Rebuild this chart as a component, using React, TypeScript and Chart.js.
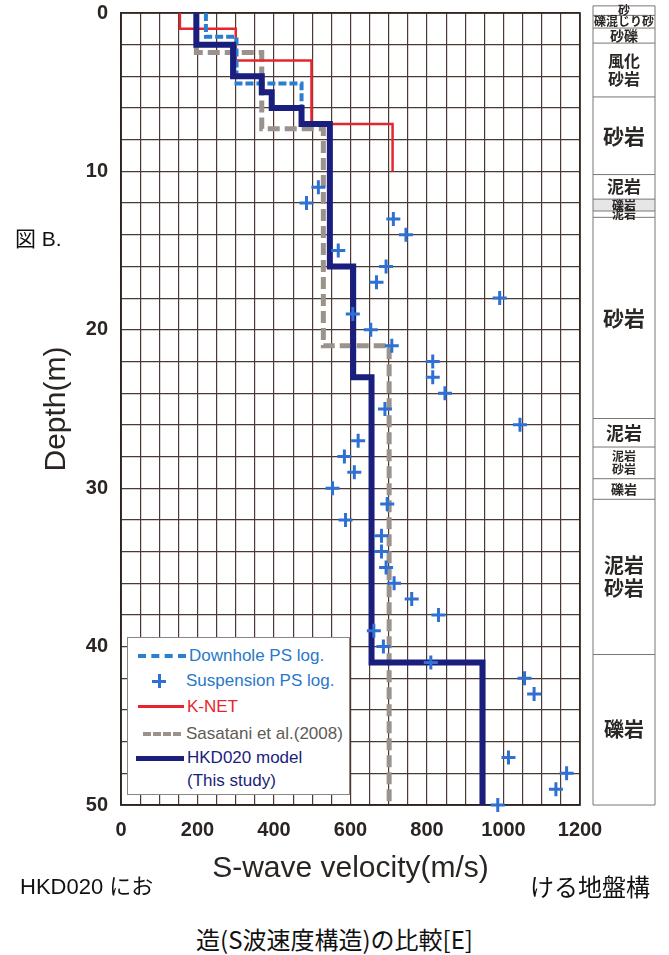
import React, { useEffect, useRef } from 'react';
import { Chart, registerables } from 'chart.js';
Chart.register(...registerables);

// ---------- data ----------
// Suspension PS log points (velocity m/s, depth m)
const SUSP_VS = [516, 485, 712, 745, 568, 693, 668, 990, 606, 653, 708, 815, 815, 847, 690, 1043, 620, 584, 610, 553, 696, 587, 681, 681, 693, 714, 760, 830, 661, 686, 810, 1055, 1080, 1013, 1165, 1137, 985];
const SUSP_DEPTH = [11, 12, 13, 14, 15, 16, 17, 18, 19, 20, 21, 22, 23, 24, 25, 26, 27, 28, 29, 30, 31, 32, 33, 34, 35, 36, 37, 38, 39, 40, 41, 42, 43, 47, 48, 49, 50];

// HKD020 model (this study): layer tops and velocities
const HKD_TOPS = [0, 2, 4, 5, 6, 7, 16, 23, 41];
const HKD_VS = [197, 293, 368, 394, 472, 546, 607, 655, 945];
const HKD_BOTTOM = 50;

// Downhole PS log
const DH_TOPS = [0, 1.5, 4.45];
const DH_VS = [222, 302, 472];
const DH_BOTTOM = 7;

// K-NET
const KNET_TOPS = [0, 1, 3, 7];
const KNET_VS = [154, 300, 498, 710];
const KNET_BOTTOM = 10;

// Sasatani et al. (2008)
const SAS_TOPS = [0, 2.5, 7.3, 21];
const SAS_VS = [197, 368, 529, 701];
const SAS_BOTTOM = 50;

// Geological column
const GEO_BOUNDS = [-0.45, 0.15, 0.95, 1.9, 5.3, 10.2, 11.75, 12.5, 12.9, 25.6, 27.4, 29.4, 30.7, 40.5, 50];
const GEO_NAMES = ['砂', '礫混じり砂', '砂礫', '風化\n砂岩', '砂岩', '泥岩', '礫岩', '泥岩', '砂岩', '泥岩', '泥岩\n砂岩', '礫岩', '泥岩\n砂岩', '礫岩'];
const GEO_FONT = [12, 12, 14, 16, 21, 17, 12, 12, 21, 18, 12, 13, 20, 20];

// axis
const X_MIN = 0, X_MAX = 1200, X_GRID = 50, X_LABEL_EVERY = 200;
const Y_MIN = 0, Y_MAX = 50, Y_GRID = 2, Y_LABEL_EVERY = 10;

// ---------- helpers ----------
function profile(tops: number[], vs: number[], bottom: number) {
  const pts: { x: number; y: number }[] = [];
  tops.forEach((t, i) => {
    const b = i < tops.length - 1 ? tops[i + 1] : bottom;
    pts.push({ x: vs[i], y: t }, { x: vs[i], y: b });
  });
  return pts;
}

const NAVY = '#1a1e7c';
const LIGHTBLUE = '#2a7fd0';
const POINTBLUE = '#2f70d2';
const RED = '#e8252c';
const GRAY = '#9a928b';
const GRID = '#4a3a33';
const SANS = '"Liberation Sans", Arial, "Noto Sans CJK JP", sans-serif';
const CJK = '"Noto Sans CJK JP", "Liberation Sans", sans-serif';

const framePlugin = {
  id: 'frame',
  beforeDatasetsDraw(chart: any) {
    const { ctx, chartArea: a } = chart;
    ctx.save();
    ctx.strokeStyle = '#2e2420';
    ctx.lineWidth = 1.6;
    ctx.strokeRect(a.left, a.top, a.right - a.left, a.bottom - a.top);
    ctx.restore();
  },
};

const stripPlugin = {
  id: 'strip',
  afterDraw(chart: any) {
    const { ctx, chartArea: a } = chart;
    const ys = chart.scales.y;
    const x0 = a.right + 13;
    const x1 = a.right + 75;
    ctx.save();
    for (let i = 0; i < GEO_NAMES.length; i++) {
      const t = ys.getPixelForValue(GEO_BOUNDS[i]);
      const b = ys.getPixelForValue(GEO_BOUNDS[i + 1]);
      if (GEO_NAMES[i] === '礫岩' && b - t < 15) {
        ctx.fillStyle = '#e6e6e8';
        ctx.fillRect(x0, t, x1 - x0, b - t);
      }
      ctx.strokeStyle = '#7a7674';
      ctx.lineWidth = 1;
      ctx.beginPath();
      ctx.moveTo(x0, t);
      ctx.lineTo(x1, t);
      ctx.stroke();
    }
    const top = ys.getPixelForValue(GEO_BOUNDS[0]);
    const bot = ys.getPixelForValue(GEO_BOUNDS[GEO_BOUNDS.length - 1]);
    ctx.beginPath();
    ctx.moveTo(x0, top); ctx.lineTo(x0, bot); ctx.lineTo(x1, bot); ctx.lineTo(x1, top);
    ctx.stroke();
    ctx.fillStyle = '#2a2624';
    ctx.textAlign = 'center';
    ctx.textBaseline = 'middle';
    for (let i = 0; i < GEO_NAMES.length; i++) {
      const t = ys.getPixelForValue(GEO_BOUNDS[i]);
      const b = ys.getPixelForValue(GEO_BOUNDS[i + 1]);
      const size = GEO_FONT[i];
      ctx.font = `bold ${size}px ${CJK}`;
      const lines = GEO_NAMES[i].split('\n');
      const lh = size * 1.15;
      const cy = (t + b) / 2 - ((lines.length - 1) * lh) / 2;
      lines.forEach((ln, k) => {
        ctx.fillText(ln, (x0 + x1) / 2, cy + k * lh, x1 - x0 - 2);
      });
    }
    ctx.restore();
  },
};

function Legend() {
  const row = (top: number): React.CSSProperties => ({ position: 'absolute', top, left: 0, width: '100%', height: 0 });
  const text = (left: number, color: string): React.CSSProperties => ({
    position: 'absolute', left, top: -10, fontSize: 17, lineHeight: '20px', color, fontFamily: SANS, whiteSpace: 'nowrap',
  });
  const line = (left: number, width: number, style: string): React.CSSProperties => ({
    position: 'absolute', left, width, top: -2, height: 0, borderTop: style,
  });
  return (
    <div style={{ position: 'absolute', left: 127, top: 637, width: 223, height: 158, border: '1px solid #8a8886', background: '#fff', boxSizing: 'border-box' }}>
      <div style={row(18)}>
        <div style={line(10, 48, `4px dashed ${LIGHTBLUE}`)} />
        <div style={text(61, '#2a78c8')}>Downhole PS log.</div>
      </div>
      <div style={row(43)}>
        <div style={{ position: 'absolute', left: 24, top: -7, width: 14, height: 14 }}>
          <div style={{ position: 'absolute', left: 0, top: 5.5, width: 14, height: 3, background: POINTBLUE }} />
          <div style={{ position: 'absolute', left: 5.5, top: 0, width: 3, height: 14, background: POINTBLUE }} />
        </div>
        <div style={text(58, '#2a78c8')}>Suspension PS log.</div>
      </div>
      <div style={row(69)}>
        <div style={line(10, 46, `3px solid ${RED}`)} />
        <div style={text(59, RED)}>K-NET</div>
      </div>
      <div style={row(96)}>
        <div style={line(15, 38, `4px dashed ${GRAY}`)} />
        <div style={text(58, '#5f5a56')}>Sasatani et al.(2008)</div>
      </div>
      <div style={row(120)}>
        <div style={line(8, 48, `5px solid ${NAVY}`)} />
        <div style={text(59, NAVY)}>HKD020 model</div>
      </div>
      <div style={row(143)}>
        <div style={text(59, NAVY)}>(This study)</div>
      </div>
    </div>
  );
}

export default function App() {
  const ref = useRef<HTMLCanvasElement | null>(null);

  useEffect(() => {
    if (!ref.current) return;
    const tickFont = { family: SANS, size: 20, weight: 'bold' as const };
    const chart = new Chart(ref.current, {
      type: 'scatter',
      data: {
        datasets: [
          {
            label: 'Suspension PS log.',
            data: SUSP_VS.map((v, i) => ({ x: v, y: SUSP_DEPTH[i] })),
            showLine: false,
            pointStyle: 'cross',
            pointRadius: 7,
            pointBorderWidth: 3,
            borderColor: POINTBLUE,
            backgroundColor: POINTBLUE,
            order: 0,
            clip: false as any,
          },
          {
            label: 'HKD020 model',
            data: profile(HKD_TOPS, HKD_VS, HKD_BOTTOM),
            showLine: true,
            borderColor: NAVY,
            borderWidth: 6,
            pointRadius: 0,
            borderJoinStyle: 'miter',
            order: 1,
          },
          {
            label: 'Downhole PS log.',
            data: profile(DH_TOPS, DH_VS, DH_BOTTOM),
            showLine: true,
            borderColor: LIGHTBLUE,
            borderWidth: 4,
            borderDash: [8, 3],
            pointRadius: 0,
            order: 2,
          },
          {
            label: 'K-NET',
            data: profile(KNET_TOPS, KNET_VS, KNET_BOTTOM),
            showLine: true,
            borderColor: RED,
            borderWidth: 2.5,
            pointRadius: 0,
            order: 3,
          },
          {
            label: 'Sasatani et al.(2008)',
            data: profile(SAS_TOPS, SAS_VS, SAS_BOTTOM),
            showLine: true,
            borderColor: GRAY,
            borderWidth: 5,
            borderDash: [12, 5],
            pointRadius: 0,
            order: 4,
          },
        ],
      },
      options: {
        responsive: false,
        animation: false,
        devicePixelRatio: 1,
        layout: { padding: { left: 0, right: 89, top: 13, bottom: 0 } },
        plugins: { legend: { display: false }, tooltip: { enabled: false } },
        scales: {
          x: {
            type: 'linear',
            min: X_MIN,
            max: X_MAX,
            ticks: {
              stepSize: X_GRID,
              autoSkip: false,
              maxRotation: 0,
              padding: 13,
              color: '#2a2422',
              font: tickFont,
              callback: (v: any) => (Number(v) % X_LABEL_EVERY === 0 ? String(v) : ''),
            },
            grid: { color: GRID, lineWidth: 1.2, drawTicks: false },
            border: { display: true, color: '#2e2420', width: 1.6 },
            title: {
              display: true,
              text: 'S-wave velocity(m/s)',
              color: '#2a2422',
              font: { family: SANS, size: 30 },
              padding: { top: 0, bottom: 13 },
            },
            afterFit: (s: any) => { s.height = 95; s.paddingLeft = 0; s.paddingRight = 0; },
          },
          y: {
            type: 'linear',
            min: Y_MIN,
            max: Y_MAX,
            reverse: true,
            ticks: {
              stepSize: Y_GRID,
              autoSkip: false,
              padding: 13,
              color: '#2a2422',
              font: tickFont,
              callback: (v: any) => (Number(v) % Y_LABEL_EVERY === 0 ? String(v) : ''),
            },
            grid: { color: GRID, lineWidth: 1.2, drawTicks: false },
            border: { display: true, color: '#2e2420', width: 1.6 },
            title: {
              display: true,
              text: 'Depth(m)',
              color: '#2a2422',
              font: { family: SANS, size: 30 },
              padding: { top: 39, bottom: 0 },
            },
            afterFit: (s: any) => { s.width = 121; s.paddingTop = 0; s.paddingBottom = 0; },
          },
        },
      },
      plugins: [framePlugin, stripPlugin],
    } as any);
    return () => chart.destroy();
  }, []);

  const cap: React.CSSProperties = { position: 'absolute', fontFamily: CJK, fontSize: 20, lineHeight: '24px', color: '#111', whiteSpace: 'nowrap' };

  return (
    <div style={{ position: 'absolute', left: 0, top: 0, width: 669, height: 955, background: '#fff', overflow: 'hidden' }}>
      <canvas ref={ref} width={669} height={900} style={{ position: 'absolute', left: 0, top: 0, width: 669, height: 900 }} />
      <Legend />
      <div style={{ ...cap, left: 15, top: 227, fontSize: 21, fontFamily: SANS }}>図 B.</div>
      <div style={{ ...cap, left: 20, top: 875, fontSize: 22, fontFamily: SANS }}>HKD020 にお</div>
      <div style={{ ...cap, left: 530, top: 874, fontSize: 24 }}>ける地盤構</div>
      <div style={{ ...cap, left: 0, width: 669, textAlign: 'center', top: 927, fontSize: 24 }}>造(S波速度構造)の比較[E]</div>
    </div>
  );
}
